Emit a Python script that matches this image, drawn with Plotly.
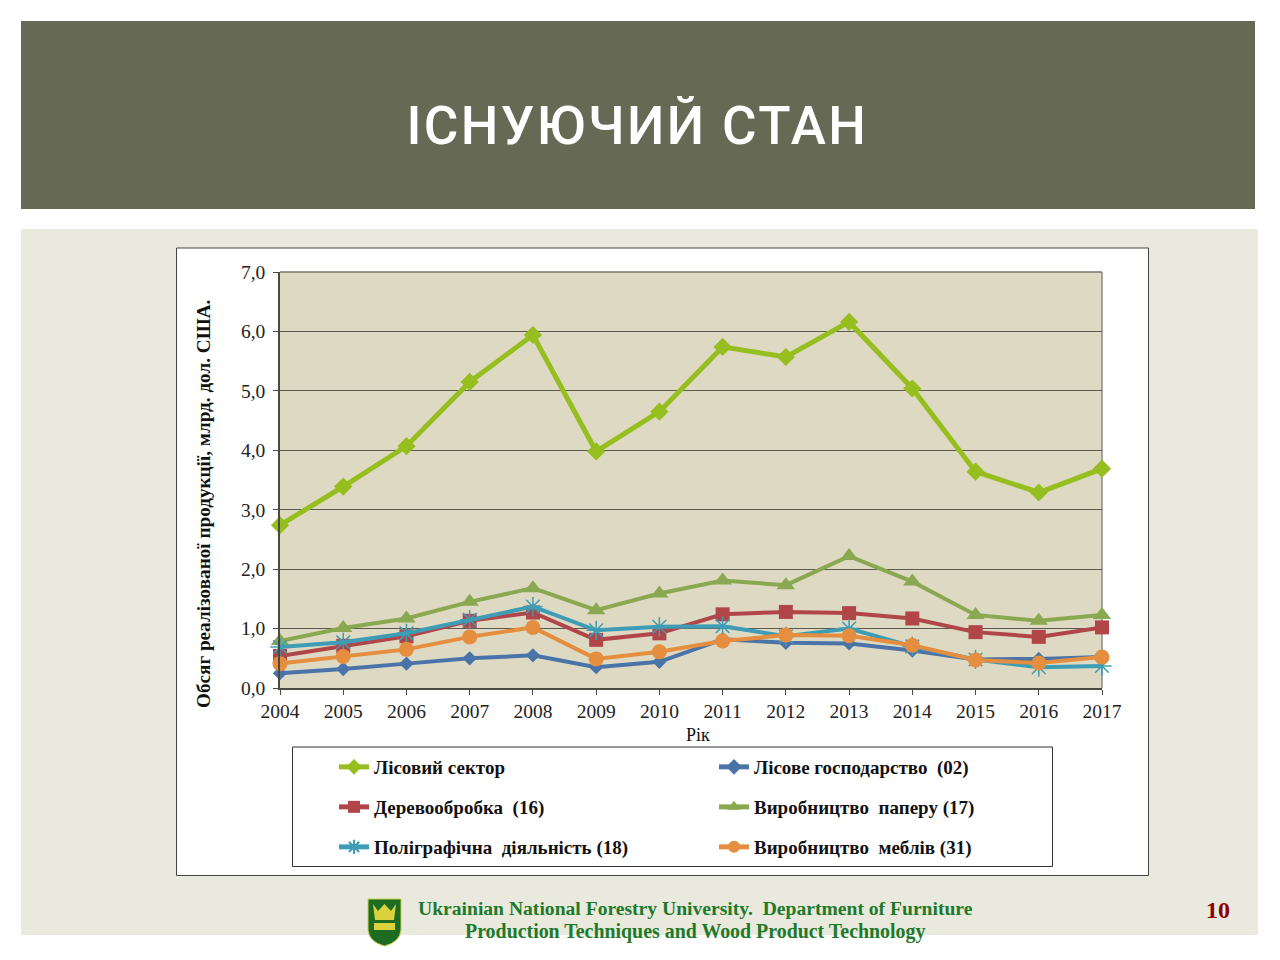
import plotly.graph_objects as go

years = list(range(2004, 2018))
forest_sector = [2.74, 3.39, 4.07, 5.15, 5.94, 3.98, 4.65, 5.74, 5.57, 6.16, 5.04, 3.64, 3.29, 3.69]
forestry_02 = [0.25, 0.32, 0.41, 0.50, 0.55, 0.35, 0.44, 0.82, 0.76, 0.75, 0.63, 0.48, 0.49, 0.52]
wood_16 = [0.54, 0.71, 0.87, 1.13, 1.27, 0.81, 0.92, 1.24, 1.28, 1.26, 1.17, 0.94, 0.86, 1.02]
paper_17 = [0.79, 1.01, 1.17, 1.45, 1.68, 1.31, 1.59, 1.81, 1.73, 2.22, 1.79, 1.23, 1.13, 1.23]
print_18 = [0.69, 0.77, 0.92, 1.15, 1.37, 0.97, 1.03, 1.04, 0.87, 1.00, 0.70, 0.48, 0.35, 0.37]
furniture_31 = [0.41, 0.53, 0.65, 0.86, 1.02, 0.49, 0.61, 0.79, 0.89, 0.88, 0.72, 0.47, 0.42, 0.52]

SERIF = "Liberation Serif"
W, H = 1280, 960
px = lambda x: x / W
py = lambda y: 1 - y / H

series = [
    ("Лісовий сектор", forest_sector, "#95BE1E", "diamond", 14, 5, "legend", 334, 767),
    ("Лісове господарство\u00a0\u00a0(02)", forestry_02, "#4A74A8", "diamond", 11, 4, "legend2", 714, 767),
    ("Деревообробка\u00a0\u00a0(16)", wood_16, "#B0464A", "square", 14, 4, "legend3", 334, 807),
    ("Виробництво\u00a0\u00a0паперу (17)", paper_17, "#8AA84F", "triangle-up", 16, 4, "legend4", 714, 807),
    ("Поліграфічна\u00a0\u00a0діяльність (18)", print_18, "#3E9DB5", "asterisk-open", 16, 4, "legend5", 334, 847),
    ("Виробництво\u00a0\u00a0меблів (31)", furniture_31, "#E58E3F", "circle", 15, 4, "legend6", 714, 847),
]

fig = go.Figure()
legends = {}
for name, vals, col, sym, size, lw, leg, lx, ly in series:
    marker = dict(symbol=sym, size=size, color=col)
    if sym == "asterisk-open":
        marker["line"] = dict(color=col, width=1.5)
    fig.add_trace(go.Scatter(x=years, y=vals, name=name, mode="lines+markers",
                             line=dict(color=col, width=lw), marker=marker,
                             cliponaxis=False, legend=leg))
    legends[leg] = dict(x=px(lx), y=py(ly), xanchor="left", yanchor="middle",
                        bgcolor="rgba(0,0,0,0)", itemwidth=30, itemclick=False, itemsizing="constant",
                        font=dict(family=SERIF, size=19, color="#111111", weight=700))

shapes = [
    dict(type="rect", xref="paper", yref="paper", x0=px(21), x1=px(1258), y0=py(935), y1=py(229),
         fillcolor="#E9E9DD", line_width=0, layer="below"),
    dict(type="rect", xref="paper", yref="paper", x0=px(21), x1=px(1255), y0=py(209), y1=py(21),
         fillcolor="#666953", line_width=0, layer="below"),
    dict(type="rect", xref="paper", yref="paper", x0=px(176.5), x1=px(1148.5), y0=py(875.5), y1=py(248),
         fillcolor="#FFFFFF", line=dict(color="#444444", width=1), layer="below"),
    dict(type="rect", xref="x domain", yref="y domain", x0=0, x1=1, y0=0, y1=1,
         fillcolor="#DDD9C3", line_width=0, layer="below"),
    dict(type="line", xref="x domain", yref="y domain", x0=0, x1=1, y0=1, y1=1,
         line=dict(color="#77756A", width=1.5), layer="below"),
    dict(type="line", xref="x domain", yref="y domain", x0=1, x1=1, y0=0, y1=1,
         line=dict(color="#8A8A84", width=1.5), layer="below"),
    dict(type="rect", xref="paper", yref="paper", x0=px(292.5), x1=px(1052.5), y0=py(866.5), y1=py(747),
         fillcolor="#FFFFFF", line=dict(color="#333333", width=1), layer="below"),
    dict(type="path", xref="paper", yref="paper", layer="below", fillcolor="#1E6B22",
         line=dict(color="#C9D24A", width=1),
         path=f"M {px(368)} {py(899)} L {px(401)} {py(899)} L {px(401)} {py(930)} "
              f"Q {px(400)} {py(942)} {px(384.5)} {py(946)} Q {px(369)} {py(942)} {px(368)} {py(930)} Z"),
    dict(type="path", xref="paper", yref="paper", layer="below", fillcolor="#D9D23C", line_width=0,
         path=f"M {px(373)} {py(904)} L {px(378)} {py(911)} L {px(384.5)} {py(904)} L {px(391)} {py(911)} "
              f"L {px(396)} {py(904)} L {px(394)} {py(920)} L {px(375)} {py(920)} Z"),
    dict(type="rect", xref="paper", yref="paper", x0=px(374), x1=px(395), y0=py(930), y1=py(923),
         fillcolor="#D9D23C", line_width=0, layer="below"),
]

def note(x, y, text, size, color="#111111", family=SERIF, bold=False, angle=0, weight=None):
    font = dict(family=family, size=size, color=color)
    if weight:
        font["weight"] = weight
    return dict(xref="paper", yref="paper", x=px(x), y=py(y), text=f"<b>{text}</b>" if bold else text,
                showarrow=False, textangle=angle, xanchor="center", yanchor="middle", font=font)

title = "ІСНУЮЧИЙ СТАН"
annotations = [
    note(637, 126, title, 53, color="#FFFFFF", family="Roboto", weight=500),
    note(203, 504, "Обсяг реалізованої продукції, млрд. дол. США.", 19.2, bold=True, angle=-90),
    note(698, 735, "Рік", 18),
    note(695, 908, "Ukrainian National Forestry University.\u00a0\u00a0Department of Furniture", 19.6, color="#1E7A2A", bold=True),
    note(695, 931, "Production Techniques and Wood Product Technology", 19.9, color="#1E7A2A", bold=True),
    note(1218, 910, "10", 24, color="#8B0000", bold=True),
]

axis_common = dict(showline=True, linecolor="#4A4A40", linewidth=1.5, ticks="outside", ticklen=5,
                   tickcolor="#4A4A40", tickfont=dict(family=SERIF, size=19.5, color="#222222"))

fig.update_layout(
    width=W, height=H, margin=dict(l=0, r=0, t=0, b=0, autoexpand=False),
    paper_bgcolor="#FFFFFF", plot_bgcolor="#DDD9C3", separators=", ",
    shapes=shapes, annotations=annotations, showlegend=True,
    xaxis=dict(domain=[px(280), px(1102)], range=[2004, 2017], tick0=2004, dtick=1,
               tickformat="d", showgrid=False, zeroline=False, **axis_common),
    yaxis=dict(domain=[py(688), py(272)], range=[0, 7], tick0=0, dtick=1, tickformat=".1f",
               ticklabelstandoff=4,
               showgrid=True, gridcolor="#5A5A4E", gridwidth=1, zeroline=False, **axis_common),
    **legends,
)
post = """
document.body.style.margin='0';document.body.style.overflow='hidden';
var spaceTitle=function(){var t=document.querySelector('.annotation-text');if(t){t.style.letterSpacing='2.4px';}};
spaceTitle();setTimeout(spaceTitle,50);
"""
fig.write_html("out.html", config=dict(displayModeBar=False), post_script=post)
